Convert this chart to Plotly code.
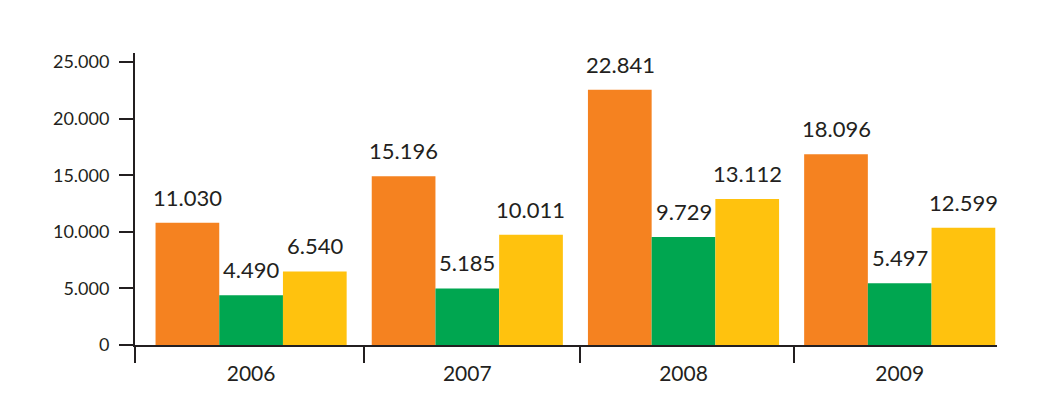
import plotly.graph_objects as go

years = ["2006", "2007", "2008", "2009"]
# bar heights as drawn in the picture
orange = [10800, 14900, 22550, 16850]
green = [4400, 5000, 9550, 5450]
yellow = [6500, 9750, 12900, 10350]
# value labels printed above the bars
orange_lbl = ["11.030", "15.196", "22.841", "18.096"]
green_lbl = ["4.490", "5.185", "9.729", "5.497"]
yellow_lbl = ["6.540", "10.011", "13.112", "12.599"]

FONT = "Lato, 'Open Sans', sans-serif"
INK = "#231f20"
XRANGE = [-0.537, 3.45]

fig = go.Figure()
series = [(orange, orange_lbl, "#f58220", -63.5),
          (green, green_lbl, "#00a650", 0),
          (yellow, yellow_lbl, "#ffc20e", 63.5)]
for vals, lbls, col, dx in series:
    fig.add_trace(go.Bar(x=years, y=vals, marker=dict(color=col, line_width=0),
                         hoverinfo="skip"))
    # category index as x, so "2006" is not read as a number
    for i, (v, t) in enumerate(zip(vals, lbls)):
        fig.add_annotation(x=i, y=v, text=t, showarrow=False, xshift=dx,
                           yanchor="bottom", yshift=10,
                           font=dict(family=FONT, size=22, color=INK))

# empty trace so the overlay axis (boundary ticks) gets drawn
fig.add_trace(go.Scatter(x=[XRANGE[0]], y=[0], xaxis="x2", mode="markers",
                         marker=dict(opacity=0), hoverinfo="skip"))

# page body has an 8px margin, so shrink the figure by that much
fig.update_layout(
    width=1048, height=409,
    margin=dict(l=127, r=59, t=45, b=72),
    paper_bgcolor="white", plot_bgcolor="white",
    barmode="group", bargap=0.116, bargroupgap=0,
    showlegend=False,
    separators=",.",
    font=dict(family=FONT, color=INK),
    xaxis=dict(type="category", range=XRANGE,
               showline=True, linecolor=INK, linewidth=2,
               ticks="", ticklabelstandoff=9, showgrid=False, zeroline=False,
               tickfont=dict(family=FONT, size=21, color=INK)),
    xaxis2=dict(overlaying="x", anchor="y", side="bottom", range=XRANGE,
                tickvals=[XRANGE[0], 0.52, 1.52, 2.51], showticklabels=False,
                ticks="outside", ticklen=17, tickwidth=2, tickcolor=INK,
                showgrid=False, zeroline=False, showline=False),
)
fig.update_yaxes(
    range=[0, 25800], dtick=5000, tickformat=",d",
    showline=True, linecolor=INK, linewidth=2,
    ticks="outside", ticklen=14, tickwidth=2, tickcolor=INK,
    showgrid=False, zeroline=False, ticklabelstandoff=6,
    tickfont=dict(family=FONT, size=18, color=INK),
)

fig.write_html("out.html")
